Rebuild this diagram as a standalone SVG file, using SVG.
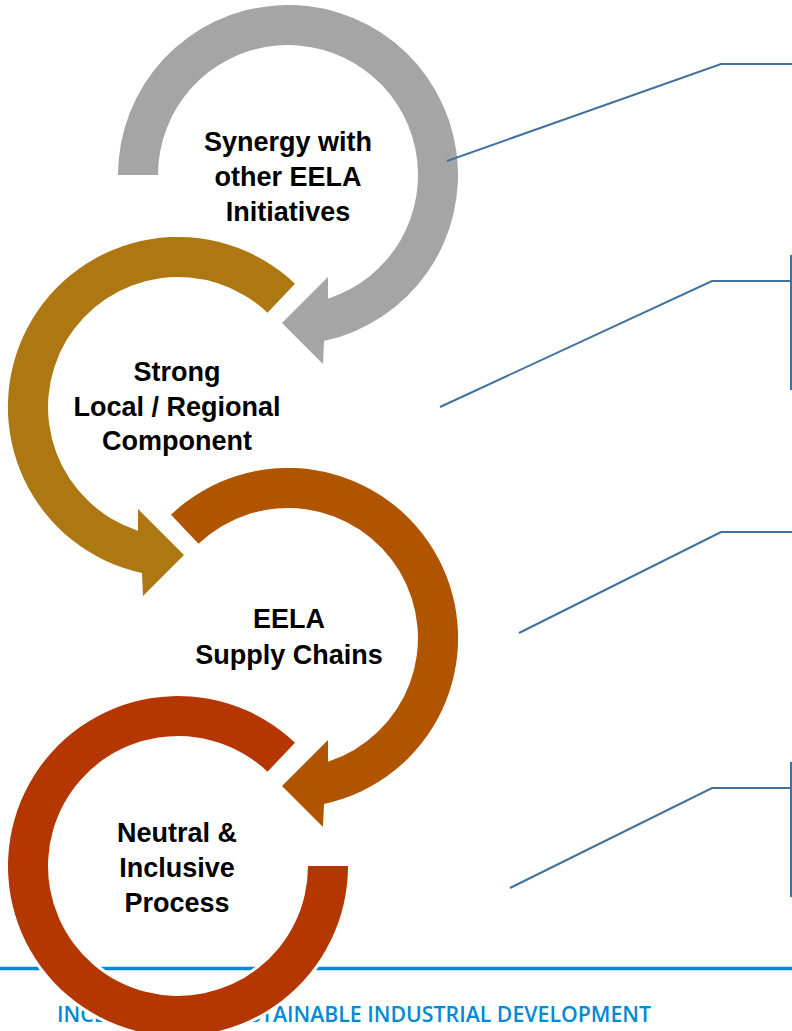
<svg xmlns="http://www.w3.org/2000/svg" width="792" height="1031" viewBox="0 0 792 1031">
<style>
.arr{stroke:#FFFFFF;stroke-width:6;paint-order:stroke;stroke-linejoin:miter}
.lbl{font-family:"Liberation Sans",Arial,sans-serif;font-weight:bold;font-size:27px;fill:#000000;text-anchor:middle}
.call{fill:none;stroke:#41719C;stroke-width:2}
.foot{font-family:"Open Sans","Liberation Sans",Arial,sans-serif;font-weight:600;font-size:21px;fill:#0089D6}
</style>
<rect width="792" height="1031" fill="#FFFFFF"/>
<g id="footer">
<line x1="0" y1="968.5" x2="792" y2="968.5" stroke="#0089D6" stroke-width="3.5"/>
<text class="foot" x="57" y="1022" textLength="594" lengthAdjust="spacingAndGlyphs">INCLUSIVE AND SUSTAINABLE INDUSTRIAL DEVELOPMENT</text>
</g>
<g id="node-synergy">
<path class="arr" fill="#A5A5A5" d="M118,175 A170,170 0 1 1 324,341.1 L323,364 L282,323 L328,277 L328,298.7 A130,130 0 1 0 158,175 Z"/>
<text class="lbl" x="288" y="151">Synergy with</text>
<text class="lbl" x="288" y="186">other EELA</text>
<text class="lbl" x="288" y="221">Initiatives</text>
</g>
<g id="node-local">
<path class="arr" fill="#AD7811" d="M295,283.7 A170,170 0 1 0 142,573.1 L143,596 L184,555 L138,509 L138,530.7 A130,130 0 1 1 267.5,312.7 Z"/>
<text class="lbl" x="177" y="381">Strong</text>
<text class="lbl" x="177" y="416">Local / Regional</text>
<text class="lbl" x="177" y="450">Component</text>
</g>
<g id="node-supply">
<path class="arr" fill="#B05400" d="M171,514.7 A170,170 0 1 1 324,804.1 L323,827 L282,786 L328,740 L328,761.7 A130,130 0 1 0 198.5,543.7 Z"/>
<text class="lbl" x="289" y="628">EELA</text>
<text class="lbl" x="289" y="664">Supply Chains</text>
</g>
<g id="node-neutral">
<path class="arr" fill="#B43600" d="M295,742.7 A170,170 0 1 0 348,866 L308,866 A130,130 0 1 1 267.5,771.7 Z"/>
<text class="lbl" x="177" y="842">Neutral &amp;</text>
<text class="lbl" x="177" y="877">Inclusive</text>
<text class="lbl" x="177" y="912">Process</text>
</g>
<g id="connectors">
<polyline class="call" points="447,161 721,64 792,64"/>
<polyline class="call" points="440,407 712,281 791,281"/>
<line class="call" x1="791" y1="255" x2="791" y2="390"/>
<polyline class="call" points="519,633 721,532 792,532"/>
<polyline class="call" points="510,888 712,788 791,788"/>
<line class="call" x1="791" y1="762" x2="791" y2="897"/>
</g>
</svg>
